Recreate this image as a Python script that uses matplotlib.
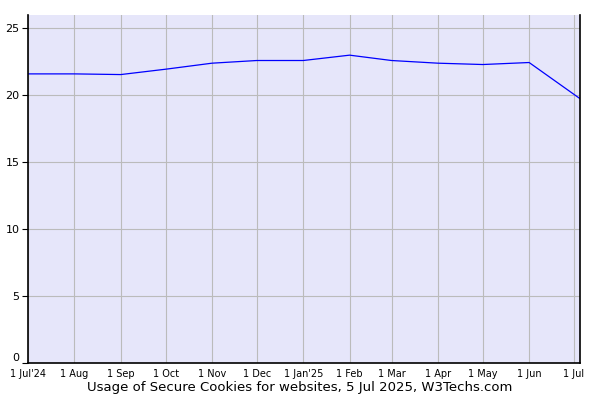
import pandas as pd
import matplotlib.pyplot as plt

dates = pd.to_datetime(['2024-07-01', '2024-08-01', '2024-09-01', '2024-10-01',
                        '2024-11-01', '2024-12-01', '2025-01-01', '2025-02-01',
                        '2025-03-01', '2025-04-01', '2025-05-01', '2025-06-01',
                        '2025-07-05'])
usage = [21.6, 21.6, 21.55, 21.95, 22.4, 22.6, 22.6, 23.0, 22.6, 22.4, 22.3, 22.45, 19.75]

tick_dates = pd.date_range('2024-07-01', '2025-07-01', freq='MS')
tick_labels = ["1 Jul'24", '1 Aug', '1 Sep', '1 Oct', '1 Nov', '1 Dec', "1 Jan'25",
               '1 Feb', '1 Mar', '1 Apr', '1 May', '1 Jun', '1 Jul']

fig = plt.figure(figsize=(6, 4), dpi=100)
ax = fig.add_axes([28/600, 1 - 363/400, 552/600, 348/400])
ax.set_facecolor('#e6e6fa')
ax.plot(dates, usage, color='blue', lw=0.9)

ax.set_xlim(dates[0], dates[-1])
ax.set_ylim(0, 26)
ax.set_yticks([0, 5, 10, 15, 20, 25])
ax.set_xticks(tick_dates)
ax.set_xticklabels(tick_labels, fontsize=7, family='Liberation Sans Narrow')
ax.tick_params(axis='x', length=0, pad=4)
ax.tick_params(axis='y', length=4, labelsize=8, pad=2)
# the reference lifts the "0" label a little above its tick
ax.get_yticklabels()[0].set_va('bottom')
ax.grid(True, color='#bbbbbb', lw=0.8)
ax.set_axisbelow(True)
ax.spines['top'].set_visible(False)
for s in ['left', 'bottom', 'right']:
    ax.spines[s].set_linewidth(1.2)

fig.text(0.5, 1 - 388/400, 'Usage of Secure Cookies for websites, 5 Jul 2025, W3Techs.com',
         ha='center', va='center', fontsize=9.5)

fig.savefig('out.png', dpi=100)
